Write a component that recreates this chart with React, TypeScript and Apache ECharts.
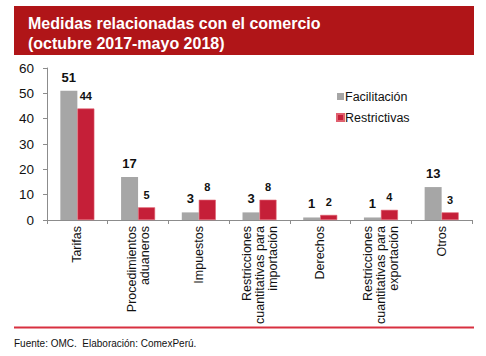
import React, { useEffect, useRef } from "react";
import * as echarts from "echarts";

const categories = [
  "Tarifas",
  "Procedimientos\naduaneros",
  "Impuestos",
  "Restricciones\ncuantitativas para\nimportación",
  "Derechos",
  "Restricciones\ncuantitativas para\nexportación",
  "Otros",
];
const facilitacion = [51, 17, 3, 3, 1, 1, 13];
const restrictivas = [44, 5, 8, 8, 2, 4, 3];
const yTicks = { min: 0, max: 60, interval: 10 };
const titleLines = ["Medidas relacionadas con el comercio", "(octubre 2017-mayo 2018)"];
const footer = "Fuente: OMC.  Elaboración: ComexPerú.";

const FONT = "Liberation Sans, Arial, sans-serif";

export default function App() {
  const ref = useRef<HTMLDivElement>(null);
  useEffect(() => {
    const chart = echarts.init(ref.current!, null, { renderer: "svg" });
    chart.setOption({
      animation: false,
      backgroundColor: "#ffffff",
      textStyle: { fontFamily: FONT },
      grid: { left: 47, right: 14, top: 68, bottom: 136, containLabel: false },
      legend: {
        orient: "vertical",
        left: 336,
        top: 90,
        padding: 0,
        itemWidth: 7,
        itemHeight: 7,
        itemGap: 8,
        icon: "rect",
        textStyle: { fontSize: 12.5, color: "#111", fontFamily: FONT, padding: [0, 0, 0, -4] },
        data: ["Facilitación", "Restrictivas"],
      },
      xAxis: {
        type: "category",
        data: categories,
        axisLine: { lineStyle: { color: "#8c8c8c", width: 1 } },
        axisTick: { show: true, length: 4, lineStyle: { color: "#8c8c8c" } },
        axisLabel: {
          rotate: 90,
          interval: 0,
          fontSize: 12.5,
          lineHeight: 13,
          color: "#111",
          margin: 6,
          fontFamily: FONT,
        },
      },
      yAxis: {
        type: "value",
        min: yTicks.min,
        max: yTicks.max,
        interval: yTicks.interval,
        axisLine: { show: true, lineStyle: { color: "#8c8c8c" } },
        axisTick: { show: true, length: 4, lineStyle: { color: "#8c8c8c" } },
        splitLine: { show: false },
        axisLabel: { fontSize: 13.5, color: "#111", margin: 13, fontFamily: FONT },
      },
      series: [
        {
          name: "Facilitación",
          type: "bar",
          data: facilitacion,
          barWidth: 17,
          barGap: "0%",
          itemStyle: { color: "#a6a6a6" },
          label: {
            show: true,
            position: "top",
            distance: 7,
            fontSize: 13,
            fontWeight: "bold",
            color: "#111",
            fontFamily: FONT,
          },
        },
        {
          name: "Restrictivas",
          type: "bar",
          data: restrictivas,
          barWidth: 17,
          itemStyle: { color: "#c51f38", borderColor: "#e0606f", borderWidth: 0.6 },
          label: {
            show: true,
            position: "top",
            distance: 7,
            fontSize: 11,
            fontWeight: "bold",
            color: "#111",
            fontFamily: FONT,
          },
        },
      ],
      graphic: [
        {
          type: "rect",
          shape: { x: 14, y: 6, width: 460, height: 49 },
          style: { fill: "#b01518" },
          z: 0,
        },
        {
          type: "text",
          x: 28,
          y: 13,
          style: {
            text: titleLines.join("\n"),
            fill: "#ffffff",
            fontSize: 16,
            fontWeight: "bold",
            lineHeight: 20,
            fontFamily: FONT,
          },
          z: 1,
        },
        {
          type: "line",
          shape: { x1: 14, y1: 327.5, x2: 474, y2: 327.5 },
          style: { stroke: "#d83040", lineWidth: 2 },
        },
        {
          type: "text",
          x: 14,
          y: 338,
          style: { text: footer, fill: "#111", fontSize: 10, fontFamily: FONT },
        },
      ],
    });
    return () => chart.dispose();
  }, []);
  return <div ref={ref} style={{ width: 486, height: 356, position: "absolute", left: 0, top: 0 }} />;
}
